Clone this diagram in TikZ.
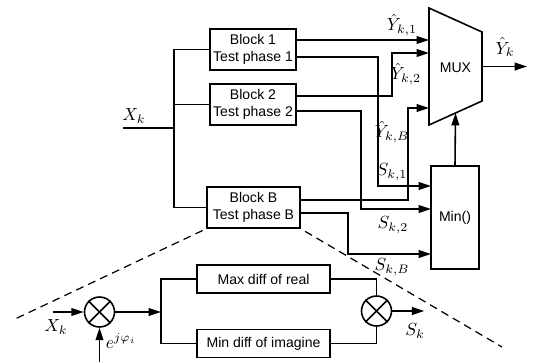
\documentclass[tikz,border=0pt]{standalone}
\usepackage{fontspec}
\setmainfont{Liberation Sans}
\usepackage{amsmath}
\usetikzlibrary{arrows.meta}
\usetikzlibrary{calc}

\begin{document}
\begin{tikzpicture}[x=0.02cm,y=-0.02cm,->,>={Triangle[length=7pt,width=4.4pt]},line width=0.9pt,
    block node/.style={rectangle,draw,align=center,font=\fontsize{8}{9.5}\selectfont,inner sep=0pt,minimum width=1.72cm,minimum height=0.82cm},
    diff node/.style={rectangle,draw,font=\fontsize{8}{9.5}\selectfont,inner sep=0pt,minimum width=2.66cm,minimum height=0.56cm},
    mult node/.style={circle,draw,inner sep=0pt,minimum size=0.6cm},
    math node/.style={inner sep=0pt},
    cut line/.style={-,line width=0.7pt,dash pattern=on 4.5pt off 3pt}]
  \useasboundingbox (0,0) rectangle (537,362);

  % test blocks
  \node[block node] (blk1) at (253,49.5) {Block 1\\Test phase 1};
  \node[block node] (blk2) at (253,104.5) {Block 2\\Test phase 2};
  \node[block node,minimum width=1.86cm] (blkB) at (253.5,207.5) {Block B\\Test phase B};

  % input bus
  \coordinate (xin) at (123,128);
  \coordinate (busx) at (175,128);
  \node[math node] (xlab) at (134,116) {$X_k$};
  \draw[-] (xin) -- (busx);
  \draw[-] (blk1.west) -- ++(-35,0) |- (blkB.west);
  \draw[-] (blk2.west) -- (blk2.west -| busx);

  % mux
  \coordinate (mtl) at (429,8);
  \coordinate (mtr) at (482,32);
  \coordinate (mbr) at (482,101);
  \coordinate (mbl) at (429,125);
  \draw[-] (mtl) -- (mtr) -- (mbr) -- (mbl) -- cycle;
  \node[font=\fontsize{8}{9.5}\selectfont] (mux) at (455.5,68) {MUX};
  \coordinate (in1) at (429,40);
  \coordinate (in2) at (429,53);
  \coordinate (inB) at (429,108);
  \coordinate (muxbot) at ($(mbl)!0.5!(mbr)$);
  \coordinate (muxout) at ($(mtr)!0.5!(mbr)$);
  \draw (muxout) -- ++(45,0);
  \node[math node] (yout) at (505,47) {$\hat{Y}_k$};

  % min
  \node[rectangle,draw,font=\fontsize{8}{9.5}\selectfont,minimum width=0.96cm,minimum height=2.06cm] (minb) at (455,217.5) {Min()};
  \coordinate (s1) at (431,186);
  \coordinate (s2) at (431,209);
  \coordinate (sB) at (431,254);
  \draw (minb.north) -- (muxbot);

  % block outputs
  \draw ([yshift=.19cm]blk1.east) -- (in1);
  \draw ([yshift=-.15cm]blk1.east) -- ++(81,0) |- (s1);
  \draw ([yshift=.17cm]blk2.east) -- ++(95,0) |- (in2);
  \draw ([yshift=-.13cm]blk2.east) -- ++(64,0) |- (s2);
  \draw ([yshift=.15cm]blkB.east) -- ++(107,0) |- (inB);
  \draw ([yshift=-.11cm]blkB.east) -- ++(47,0) |- (sB);

  \node[math node] (y1) at (402,25) {$\hat{Y}_{k,1}$};
  \node[math node] (y2) at (406,74) {$\hat{Y}_{k,2}$};
  \node[math node] (yB) at (392,132) {$\hat{Y}_{k,B}$};
  \node[math node] (l1) at (392,172) {$S_{k,1}$};
  \node[math node] (l2) at (393,225) {$S_{k,2}$};
  \node[math node] (lB) at (392,267) {$S_{k,B}$};

  % zoom lines
  \draw[cut line,shorten <=0.08cm] (blkB.south west) -- (15,319);
  \draw[cut line,shorten <=0.1cm] (blkB.south east) -- (502,347);

  % inside of a block
  \coordinate (xin2) at (53,312);
  \coordinate (ein) at (99.5,362);
  \coordinate (split) at (161,312);
  \node[mult node] (mul1) at (99.5,312) {};
  \draw[-] (mul1.north west) -- (mul1.south east) (mul1.north east) -- (mul1.south west);
  \draw (xin2) -- (mul1);
  \draw (ein) -- (mul1);
  \draw (mul1) -- (split);
  \node[math node] (xlab2) at (56,327) {$X_k$};
  \node[math node] (elab) at (121,341) {$e^{j\varphi_i}$};

  \node[diff node] (maxd) at (263.5,279) {Max diff of real};
  \node[diff node] (mind) at (263.5,343.5) {Min diff of imagine};
  \draw[-] (maxd.west) -| (split) |- (mind.west);

  \node[mult node] (mul2) at (376.5,311) {};
  \draw[-] (mul2.north west) -- (mul2.south east) (mul2.north east) -- (mul2.south west);
  \draw[-] (maxd.east) -| (mul2.north);
  \draw[-] (mind.east) -| (mul2.south);
  \draw (mul2.east) -- ++(32,0);
  \node[math node] (sk) at (415,331) {$S_k$};
\end{tikzpicture}
\end{document}
